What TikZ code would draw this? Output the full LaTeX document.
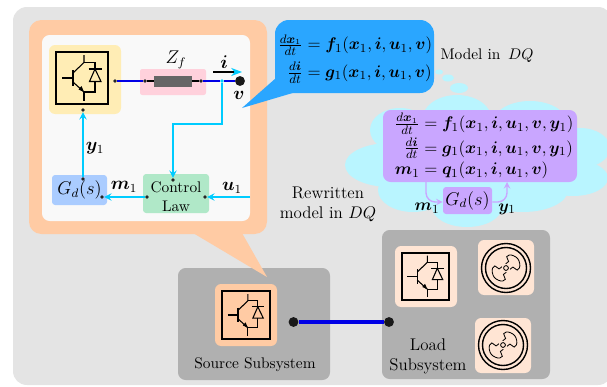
\documentclass[tikz,border=0pt]{standalone}
\usepackage{amsmath}
\usepackage{bm}
\usetikzlibrary{arrows.meta}

\definecolor{bgGray}{HTML}{E4E4E4}
\definecolor{subGray}{HTML}{B0B0B0}
\definecolor{palPeach}{HTML}{FFCBA4}
\definecolor{palLight}{HTML}{FFE5D4}
\definecolor{palBlue}{HTML}{2AA6FF}
\definecolor{palCloud}{HTML}{B9F5FF}
\definecolor{palPurple}{HTML}{C9A6FF}
\definecolor{palYellow}{HTML}{FFEDB5}
\definecolor{palPink}{HTML}{FFD1DC}
\definecolor{palGreen}{HTML}{B0E8C8}
\definecolor{palSky}{HTML}{AACCFF}
\definecolor{palCyan}{HTML}{00CCFF}
\definecolor{palLine}{HTML}{0000E6}
\def\px{0.65pt}

\begin{document}
\begin{tikzpicture}[
    x=\px, y=-\px,
    dot/.style={circle, fill=black!85, inner sep=0pt, minimum size=2.4pt},
    bigdot/.style={circle, fill=black!90, inner sep=0pt, minimum size=6.4pt},
    sig/.style={->, >=stealth, line width=1.1pt, palCyan},
    bus/.style={line width=1.2pt, palLine},
    lbl/.style={inner sep=0pt, font=\large},
    eqn/.style={inner sep=0pt, font=\fontsize{11}{13}\selectfont},
    igbt/.pic={
        \draw[line width=#1] (-26,-26) rectangle (26,26);
        \draw[line width=0.7pt] (-20,0) -- (-9,0);
        \draw[line width=1pt] (-9,-8) -- (-9,8);
        \draw[line width=0.7pt] (2,-23) -- (2,-15.5) -- (-9,-5);
        \draw[line width=0.7pt] (2,-15.5) -- (13,-15.5) -- (13,-9);
        \draw[line width=0.7pt] (6.5,-9) -- (20,-9);
        \draw[line width=0.7pt] (13,-9) -- (7.5,3.5) -- (19,3.5) -- cycle;
        \draw[line width=0.7pt] (13,3.5) -- (13,14) -- (2,14) -- (2,23);
        \draw[line width=0.7pt] (-9,4) -- (2,14);
        \fill (2,14) -- (-3.5,11.5) -- (-0.5,8) -- cycle;
    },
    rotor/.pic={
        \draw[line width=0.9pt] (0,0) circle (24.5);
        \draw[line width=0.9pt] (0,0) circle (20.5);
        \draw[line width=0.55pt] (0,0) circle (2.4);
        \foreach \ang in {38,218}
            \draw[line width=0.55pt, rotate=\ang]
                (2.4,3.5) -- (6,3.5) .. controls (7,5) and (6.5,7) .. (7.5,8.5)
                .. controls (9,9.5) and (12,8) .. (13.5,5)
                .. controls (14.5,3) and (15,1.5) .. (15,0)
                .. controls (15,-1.5) and (14.5,-3) .. (13.5,-5)
                .. controls (12,-8) and (9,-9.5) .. (7.5,-8.5)
                .. controls (6.5,-7) and (7,-5) .. (6,-3.5) -- (2.4,-3.5);
    },
]
\useasboundingbox (0,0) rectangle (607,386);

% === Background and subsystems ===
\fill[bgGray, rounded corners=9pt] (13,7) rectangle (612,385);
\fill[subGray, rounded corners=5pt] (178,268) rectangle (330,380);
\fill[subGray, rounded corners=5pt] (382,230) rectangle (550,379);

% === Zoomed source panel ===
\fill[palPeach, rounded corners=8pt] (29,20) rectangle (267,234);
\fill[palPeach] (193,233) -- (242,233) -- (267,277) -- cycle;
\fill[black!2.5, rounded corners=5pt] (42,35) rectangle (250,221);

\fill[palYellow, rounded corners=4pt] (49,45) rectangle (121,114);
\pic at (82,78) {igbt=1.7pt};
\fill[palPink, rounded corners=1.5pt] (140,69) rectangle (206,95);

\node[dot] (conv) at (115,81) {};
\node[dot] (zfa) at (145,81) {};
\node[dot] (zfb) at (201,81) {};
\node[bigdot] (vbus) at (240,81) {};
\node[inner sep=0pt, fill=palCyan, circle, minimum size=2.4pt] (tap) at (222,81) {};
\draw[bus] (conv) -- (zfa);
\draw[bus] (zfb) -- (tap) -- (vbus);
\draw[line width=1pt] (zfa) -- (zfb);
\fill[black!60] (154,76) rectangle (192,87);
\node[lbl] (zlbl) at (176,60) {$Z_f$};
\coordinate (ia) at (213,72);
\coordinate (ib) at (242,72);
\draw[line width=0.9pt, -{Stealth[palCyan]}] (ia) -- (ib);
\node[lbl] (ilbl) at (224,62) {$\bm{i}$};
\node[lbl] (vlbl) at (239,95) {$\bm{v}$};

\node[rounded corners=2pt, fill=palGreen, minimum width=66*\px, minimum height=39*\px,
    inner sep=0pt, align=center] (law) at (176,193.5) {\\[-1pt]Control\\[0.5pt]Law};
\node[rounded corners=2pt, fill=palSky, minimum width=55*\px, minimum height=30*\px,
    inner sep=0pt, font=\large] (gd) at (79.5,190) {\raisebox{-1.2pt}{$G_d(s)$}\hspace{3pt}};
\node[dot] (lawtop) at (173,180) {};
\node[dot] (lawl) at (147,197) {};
\node[dot] (lawr) at (205,197) {};
\node[dot] (gdr) at (102,197) {};
\node[dot] (gdt) at (83,179) {};
\node[dot] (convb) at (83,110) {};
\coordinate (uin) at (250,197);
\draw[sig, rounded corners=0pt] (tap) |- (173,124) -- (lawtop);
\draw[sig] (uin) -- (lawr);
\draw[sig] (lawl) -- (gdr);
\draw[sig] (gdt) -- (convb);
\node[lbl] (y1lbl) at (95,148) {$\bm{y}_1$};
\node[lbl] (m1lbl) at (124,187) {$\bm{m}_1$};
\node[lbl] (u1lbl) at (232,188) {$\bm{u}_1$};

% === Model bubble ===
\foreach \x/\y/\a/\b in {
    457/120/35/25, 400/130/30/22, 390/165/45/22, 413/190/35/22,
    467/207/35/20, 523/190/45/22, 580/148/30/20, 573/178/35/18,
    530/123/37/22, 480/165/90/50, 530/165/50/35}
    \fill[palCloud] (\x,\y) ellipse [x radius=\a, y radius=\b];
\foreach \x/\y/\a/\b in {439/72/4/2.5, 448/78/6/3.5, 459/88/9/5}
    \fill[palCloud] (\x,\y) ellipse [x radius=\a, y radius=\b];

\fill[palBlue, rounded corners=9pt] (275,20) rectangle (434,93);
\fill[palBlue] (276,78) -- (242,108) -- (296,92) -- (296,78) -- cycle;
\node[eqn] (modeleq) at (355,59)
    {$\begin{aligned}
    \tfrac{d\bm{x}_1}{dt} &= \bm{f}_1(\bm{x}_1,\bm{i},\bm{u}_1,\bm{v})\\[0pt]
    \tfrac{d\bm{i}}{dt} &= \bm{g}_1(\bm{x}_1,\bm{i},\bm{u}_1,\bm{v})
    \end{aligned}$};
\node[inner sep=0pt] (modellbl) at (487,56) {Model in\ \,$DQ$};

% === Rewritten model ===
\fill[palPurple, rounded corners=5pt] (383,110) rectangle (577,182);
\node[eqn] (neweq) at (484,147)
    {\setlength{\jot}{0pt}$\begin{aligned}
    \tfrac{d\bm{x}_1}{dt} &= \bm{f}_1(\bm{x}_1,\bm{i},\bm{u}_1,\bm{v},\bm{y}_1)\\[1pt]
    \tfrac{d\bm{i}}{dt} &= \bm{g}_1(\bm{x}_1,\bm{i},\bm{u}_1,\bm{v},\bm{y}_1)\\[1pt]
    \bm{m}_1 &= \bm{q}_1(\bm{x}_1,\bm{i},\bm{u}_1,\bm{v})
    \end{aligned}$};
\node[rounded corners=2pt, fill=palPurple, minimum width=49*\px, minimum height=27*\px,
    inner sep=0pt, font=\large] (gdnew) at (467.5,200.5) {$G_d(s)$};
\coordinate (eqout) at (426,182);
\coordinate (eqin) at (507,182);
\draw[->, >=stealth, palPurple, line width=0.9pt, rounded corners=6pt]
    (eqout) |- (gdnew.west |- 0,202);
\draw[->, >=stealth, palPurple, line width=0.9pt, rounded corners=6pt]
    (gdnew.east |- 0,202) -| (eqin);
\node[eqn] (m1new) at (427,208) {$\bm{m}_1$};
\node[eqn] (y1new) at (507,209) {$\bm{y}_1$};
\node[eqn, align=center] (rewlbl) at (328,204) {Rewritten\\model in $DQ$};

% === Source subsystem ===
\fill[palPeach, rounded corners=4pt] (215,284) rectangle (277,346);
\pic[scale=0.91] at (246,315) {igbt=1.1pt};
\node[bigdot] (srcpt) at (293.5,322) {};
\node[bigdot] (loadpt) at (389,322) {};
\draw[line width=2pt, palLine] (srcpt) -- (loadpt);
\node[inner sep=0pt] (srclbl) at (255,365) {Source Subsystem};

% === Load subsystem ===
\fill[palLight, rounded corners=4pt] (395,246) rectangle (457,307);
\pic[scale=0.91] at (425.5,276.5) {igbt=1.1pt};
\fill[palLight, rounded corners=4pt] (478,240) rectangle (534,295);
\pic at (506,268) {rotor};
\fill[palLight, rounded corners=4pt] (475,318) rectangle (531,373);
\pic at (503,345) {rotor};
\node[eqn, align=center] (loadlbl) at (428,356) {Load\\Subsystem};

\end{tikzpicture}
\end{document}
